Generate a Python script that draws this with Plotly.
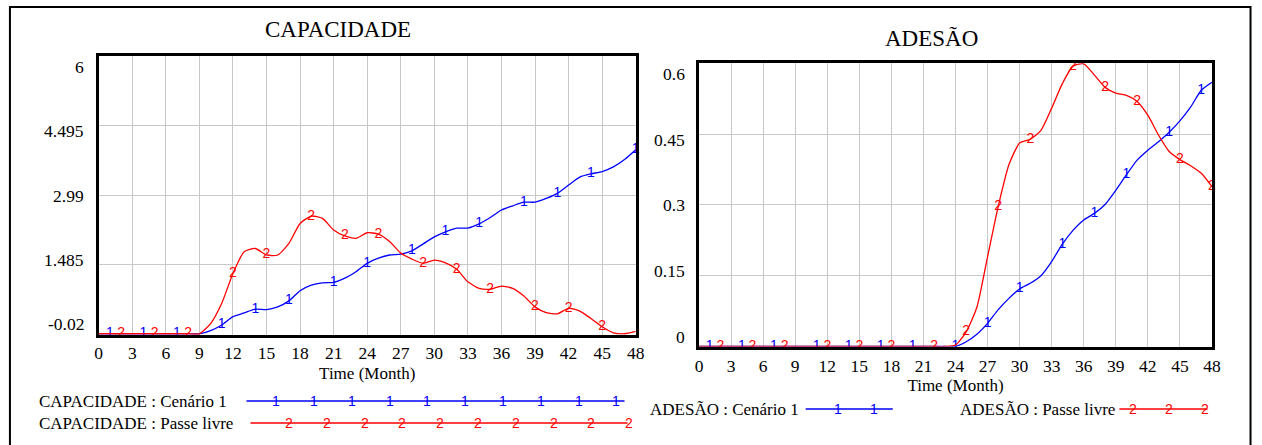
import plotly.graph_objects as go

W, H = 1262, 445

# ---------------- data ----------------
months = list(range(49))

cap_cenario1 = [0, 0, 0, 0, 0, 0, 0, 0, 0, 0,
                0.07, 0.19, 0.37, 0.45, 0.53, 0.52, 0.58, 0.71, 0.93, 1.05,
                1.10, 1.11, 1.20, 1.34, 1.52, 1.63, 1.70, 1.72, 1.79, 1.94,
                2.09, 2.20, 2.28, 2.28, 2.37, 2.51, 2.67, 2.76, 2.84, 2.84,
                2.92, 3.03, 3.21, 3.38, 3.45, 3.50, 3.60, 3.76, 3.97]

cap_passe_livre = [0, 0, 0, 0, 0, 0, 0, 0, 0, 0,
                   0.22, 0.66, 1.30, 1.77, 1.84, 1.70, 1.70, 1.95, 2.38, 2.54,
                   2.49, 2.24, 2.11, 2.06, 2.18, 2.15, 1.99, 1.74, 1.61, 1.52,
                   1.59, 1.53, 1.39, 1.12, 0.98, 0.96, 1.03, 0.98, 0.815, 0.58,
                   0.455, 0.43, 0.55, 0.49, 0.33, 0.15, 0.02, 0.0, 0.05]

ade_cenario1 = [0] * 25 + [0.010, 0.026, 0.049, 0.078, 0.102,
                           0.122, 0.134, 0.150, 0.180, 0.217, 0.246, 0.268, 0.282, 0.301, 0.331,
                           0.364, 0.395, 0.416, 0.434, 0.454, 0.478, 0.507, 0.543, 0.560]

ade_passe_livre = [0] * 24 + [0.003, 0.031, 0.083, 0.19, 0.297, 0.385,
                              0.431, 0.439, 0.458, 0.505, 0.557, 0.594, 0.599, 0.575, 0.549, 0.537,
                              0.532, 0.519, 0.49, 0.448, 0.413, 0.396, 0.383, 0.367, 0.339]

# months where Vensim puts its series number labels
cap_c1_label_months = [1, 4, 7, 11, 14, 17, 21, 24, 28, 31, 34, 38, 41, 44, 48]
cap_pl_label_months = [2, 5, 8, 12, 15, 19, 22, 25, 29, 32, 35, 39, 42, 45]
ade_c1_label_months = [1, 4, 7, 11, 14, 17, 20, 24, 27, 30, 34, 37, 40, 44, 47]
ade_pl_label_months = [2, 5, 8, 12, 15, 18, 22, 25, 28, 31, 35, 38, 41, 45, 48]

x_ticks = list(range(0, 49, 3))
cap_y_ticks = [-0.02, 1.485, 2.99, 4.495, 6]
cap_y_ticklabels = ["-0.02", "1.485", "2.99", "4.495", "6"]
ade_y_ticks = [0, 0.15, 0.3, 0.45, 0.6]
ade_y_ticklabels = ["0", "0.15", "0.3", "0.45", "0.6"]

titles = ["CAPACIDADE", "ADESÃO"]
x_title = "Time (Month)"
cap_names = ["CAPACIDADE : Cenário 1", "CAPACIDADE : Passe livre"]
ade_names = ["ADESÃO : Cenário 1", "ADESÃO : Passe livre"]

# ---------------- styling ----------------
BLUE = "rgb(0,0,255)"
RED = "rgb(255,0,0)"
SERIF = "Liberation Serif"
SANS = "Liberation Sans"
GRID = "rgb(200,200,200)"
TICK_SIZE = 17.5


def px(x):
    return x / W


def py(y):
    return 1 - y / H


fig = go.Figure()


def add_series(xa, ya, xs, ys, color, label, label_months):
    fig.add_trace(go.Scatter(x=xs, y=ys, mode="lines", xaxis=xa, yaxis=ya,
                             line=dict(color=color, width=1.3, shape="spline", smoothing=0.6),
                             showlegend=False, hoverinfo="skip"))
    fig.add_trace(go.Scatter(x=label_months, y=[ys[m] for m in label_months],
                             mode="text", text=[label] * len(label_months),
                             textposition="middle center", xaxis=xa, yaxis=ya,
                             textfont=dict(family=SANS, size=14, color=color),
                             cliponaxis=False, showlegend=False, hoverinfo="skip"))


add_series("x", "y", months, cap_cenario1, BLUE, "1", cap_c1_label_months)
add_series("x", "y", months, cap_passe_livre, RED, "2", cap_pl_label_months)
add_series("x2", "y2", months, ade_cenario1, BLUE, "1", ade_c1_label_months)
add_series("x2", "y2", months, ade_passe_livre, RED, "2", ade_pl_label_months)

axis_common = dict(showgrid=True, gridcolor=GRID, gridwidth=1, zeroline=False,
                   showline=True, linecolor="black", linewidth=2.5, mirror=True,
                   ticks="", tickfont=dict(family=SERIF, size=TICK_SIZE, color="black"))

fig.update_layout(
    width=W, height=H, autosize=False,
    margin=dict(l=0, r=0, t=0, b=0),
    paper_bgcolor="white", plot_bgcolor="white",
    font=dict(family=SERIF, size=17, color="black"),
    xaxis=dict(domain=[px(95.7), px(638.3)], range=[0, 48], tickvals=x_ticks,
               ticklabelstandoff=1,
               title=dict(text=x_title, font=dict(family=SERIF, size=17, color="black"), standoff=5),
               anchor="y", **axis_common),
    yaxis=dict(domain=[py(334.7), py(55.7)], range=[-0.02, 6], tickvals=cap_y_ticks,
               showticklabels=False, anchor="x", **axis_common),
    xaxis2=dict(domain=[px(702.3), px(1220.5)], range=[0, 48], tickvals=x_ticks,
                ticklabelstandoff=2,
                title=dict(text=x_title, font=dict(family=SERIF, size=17, color="black"), standoff=1),
                anchor="y2", **axis_common),
    yaxis2=dict(domain=[py(346.5), py(63.3)], range=[0, 0.6], tickvals=ade_y_ticks,
                showticklabels=False, anchor="x2", **axis_common),
)

annotations = []
shapes = []

# outer frame
shapes.append(dict(type="rect", xref="paper", yref="paper",
                   x0=px(6), x1=px(1259.5), y0=py(452), y1=py(7),
                   line=dict(color="black", width=2), fillcolor="rgba(0,0,0,0)", layer="below"))

# titles
annotations.append(dict(text=titles[0], x=px(337), y=py(30), xref="paper", yref="paper",
                        showarrow=False, xanchor="center", yanchor="middle",
                        font=dict(family=SERIF, size=23, color="black")))
annotations.append(dict(text=titles[1], x=px(937.5), y=py(38), xref="paper", yref="paper",
                        showarrow=False, xanchor="center", yanchor="middle",
                        font=dict(family=SERIF, size=23, color="black")))


# Vensim-style y tick labels: spread evenly a bit inside the plot height
def y_labels(labels, right_x, top_y, bottom_y):
    n = len(labels)
    for i, lab in enumerate(labels):
        yy = bottom_y - i * (bottom_y - top_y) / (n - 1)
        annotations.append(dict(text=lab, x=px(right_x), y=py(yy), xref="paper", yref="paper",
                                showarrow=False, xanchor="right", yanchor="middle",
                                font=dict(family=SERIF, size=TICK_SIZE, color="black")))


y_labels(cap_y_ticklabels, 83, 67, 324)
y_labels(ade_y_ticklabels, 690, 74, 336.7)


def legend_entry(text, tx, ty, x0, x1, color, num, num_xs):
    annotations.append(dict(text=text, x=px(tx), y=py(ty), xref="paper", yref="paper",
                            showarrow=False, xanchor="left", yanchor="middle",
                            font=dict(family=SERIF, size=17, color="black")))
    shapes.append(dict(type="line", xref="paper", yref="paper",
                       x0=px(x0), x1=px(x1), y0=py(ty), y1=py(ty),
                       line=dict(color=color, width=1.5)))
    for nx in num_xs:
        annotations.append(dict(text=num, x=px(nx), y=py(ty), xref="paper", yref="paper",
                                showarrow=False, xanchor="center", yanchor="middle",
                                font=dict(family=SANS, size=14, color=color)))


legend_entry(cap_names[0], 33, 401, 245, 627, BLUE, "1", [275 + 38.2 * k for k in range(10)])
legend_entry(cap_names[1], 33, 423, 249, 630, RED, "2", [288 + 38.2 * k for k in range(10)])
legend_entry(ade_names[0], 651, 409, 810, 898, BLUE, "1", [843, 879])
legend_entry(ade_names[1], 963.5, 409, 1127, 1216, RED, "2", [1141, 1177, 1213])

fig.update_layout(annotations=annotations, shapes=shapes)

fig.write_html("out.html")
